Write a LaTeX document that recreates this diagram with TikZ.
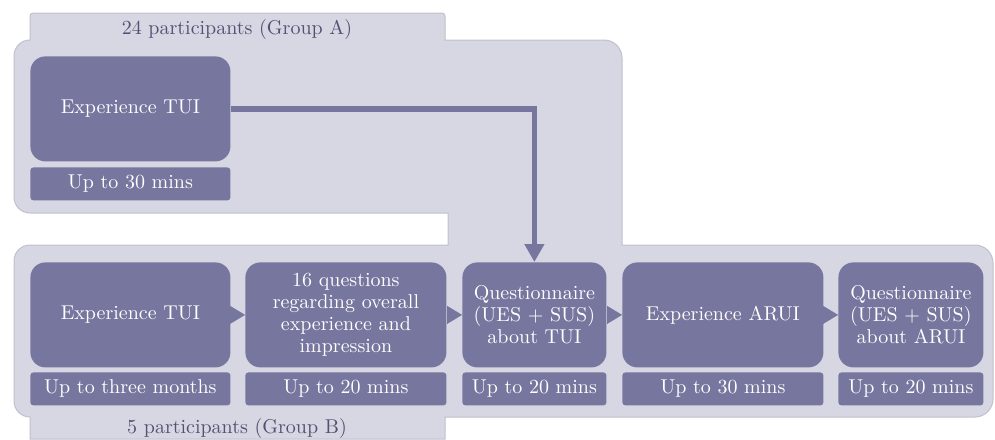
\documentclass[tikz,border=0pt]{standalone}
\usetikzlibrary{arrows.meta}
\definecolor{panel}{RGB}{215,215,227}
\definecolor{panelline}{RGB}{192,192,206}
\definecolor{stepcol}{RGB}{118,118,158}
\definecolor{labeltxt}{RGB}{82,81,116}

\begin{document}
\begin{tikzpicture}[x=0.5pt, y=-0.5pt,
    every node/.style={font=\fontsize{10}{11}\selectfont},
    bigbox/.style={fill=stepcol, text=white, rounded corners=7.5pt, anchor=north west,
      inner sep=1pt, align=center, minimum height=52.5pt},
    timebox/.style={fill=stepcol, text=white, rounded corners=1.5pt, anchor=north west,
      inner sep=0pt, minimum height=16.5pt},
    chevron/.style={stepcol, line width=0.1pt, -{Triangle[length=7.5pt, width=9pt]}},
    flow/.style={stepcol, line width=2.8pt, -{Triangle[length=9pt, width=9.5pt]}}]
  \useasboundingbox (0,0) rectangle (995,439);

  % both groups share one panel
  \filldraw[fill=panel, draw=panelline, line width=0.5pt]
    (200,13) [rounded corners=1.5pt] -- (445,13) [sharp corners] -- (445,40)
    [rounded corners=9pt] -- (622,40) [sharp corners] -- (622,245)
    [rounded corners=9pt] -- (993,245) -- (993,417) [sharp corners] -- (445,417)
    -- (445,439) -- (30,439) -- (30,417) [rounded corners=8pt] -- (14,417)
    -- (14,245) [sharp corners] -- (448,245) -- (448,213) [rounded corners=8pt]
    -- (14,213) -- (14,40) [sharp corners] -- (30,40) [rounded corners=1.5pt]
    -- (30,13) -- cycle;

  \node[text=labeltxt] (grpa) at (237,29) {24 participants (Group A)};
  \node[text=labeltxt] (grpb) at (237,428) {5 participants (Group B)};

  \node[bigbox, minimum width=100pt] (a1) at (30,56) {Experience TUI};
  \node[timebox, minimum width=100pt] (a1t) at (30,167) {Up to 30 mins};

  \foreach \n/\x/\w/\txt/\dur in {
      1/30/100/{Experience TUI}/{Up to three months},
      2/245/100.5/{16 questions\\regarding overall\\experience and\\impression}/{Up to 20 mins},
      3/462/72/{Questionnaire\\(UES + SUS)\\about TUI}/{Up to 20 mins},
      4/622/100.5/{Experience ARUI}/{Up to 30 mins},
      5/838/72.5/{Questionnaire\\(UES + SUS)\\about ARUI}/{Up to 20 mins}}
    {\node[bigbox, minimum width=\w pt] (b\n) at (\x,262) {\txt};
     \node[timebox, minimum width=\w pt] (b\n t) at (\x,372) {\dur};}

  \foreach \a/\b in {b1/b2, b2/b3, b3/b4, b4/b5}
    \draw[chevron] (\a.east) -- (\b.west);

  \draw[flow] (a1.east) -| (b3.north);
\end{tikzpicture}
\end{document}
